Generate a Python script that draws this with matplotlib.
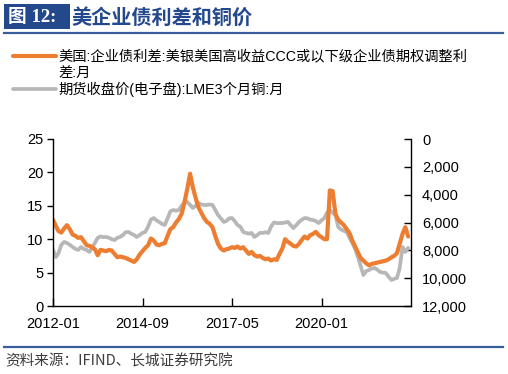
import matplotlib.pyplot as plt
import numpy as np
import pandas as pd
from matplotlib.patches import Rectangle
from matplotlib.lines import Line2D
from matplotlib.ticker import FuncFormatter

plt.rcParams['font.family'] = ['Liberation Sans', 'Noto Sans CJK SC', 'DejaVu Sans']

start_month = '2012-01'

# US CCC-and-below OAS (%), monthly
ccc_spread = [
    12.9, 12.0, 11.2, 11.0, 11.6, 12.1, 11.5, 10.7, 10.5, 10.2,
    10.3, 9.7, 9.1, 9.0, 8.8, 8.5, 7.6, 8.4, 8.3, 8.2,
    8.4, 8.3, 7.8, 7.3, 7.4, 7.3, 7.2, 7.0, 6.8, 6.6,
    7.0, 7.7, 8.2, 8.7, 9.1, 10.1, 9.8, 9.2, 9.1, 9.3,
    9.4, 10.5, 11.5, 11.8, 12.5, 13.0, 13.8, 15.5, 17.5, 19.8,
    17.8, 16.2, 14.8, 14.0, 13.2, 12.6, 12.3, 11.8, 10.5, 9.3,
    8.6, 8.3, 8.5, 8.6, 8.8, 8.7, 8.9, 8.6, 8.8, 8.3,
    7.8, 8.1, 7.6, 7.4, 7.5, 7.2, 7.0, 7.1, 6.8, 7.0,
    6.9, 7.8, 8.6, 10.0, 9.6, 9.3, 9.0, 8.9, 9.3, 9.9,
    10.4, 10.1, 10.6, 10.8, 11.1, 10.6, 10.3, 10.0, 10.0, 17.3,
    17.2, 13.8, 12.9, 12.5, 12.1, 11.5, 10.9, 9.8, 8.9, 8.0,
    7.2, 6.8, 6.4, 6.1, 6.3, 6.4, 6.5, 6.6, 6.7, 6.8,
    7.0, 7.3, 7.5, 7.9, 9.3, 10.8, 11.8, 10.4,
]

# LME 3-month copper, USD/t, monthly
lme_copper = [
    7970, 8480, 8200, 7600, 7400, 7470, 7600, 7760, 7900, 7970,
    7760, 7900, 7970, 8120, 7800, 7470, 7110, 7000, 7050, 7040,
    7100, 7200, 7260, 7100, 7040, 6900, 6700, 6680, 6800, 6900,
    7040, 6900, 6750, 6680, 6300, 5800, 5680, 5850, 5960, 6100,
    6180, 5700, 5200, 5100, 5150, 5100, 4800, 4600, 4530, 4740,
    4960, 4800, 4600, 4700, 4740, 4740, 4700, 4740, 5100, 5460,
    5700, 5960, 5900, 5700, 5680, 5900, 6180, 6300, 6680, 6750,
    6800, 6750, 7040, 6900, 6750, 6750, 6700, 6750, 6300, 6000,
    6040, 6040, 6040, 6000, 5960, 6200, 6400, 6200, 5960, 5800,
    5680, 5700, 5800, 5820, 5900, 6040, 5850, 5680, 5300, 5100,
    5300, 5460, 6320, 6500, 6600, 6680, 7100, 7470, 7900, 8480,
    9100, 9770, 9500, 9410, 9300, 9270, 9400, 9560, 9600, 9630,
    9900, 10130, 10050, 9990, 9270, 7760, 8120, 7830,
]

tick_labels = ['2012-01', '2014-09', '2017-05', '2020-01']
left_ticks = [0, 5, 10, 15, 20, 25]
right_ticks = [0, 2000, 4000, 6000, 8000, 10000, 12000]

ccc_label = ['美国:企业债利差:美银美国高收益CCC或以下级企业债期权调整利', '差:月']
cu_label = '期货收盘价(电子盘):LME3个月铜:月'

orange = '#ED7D31'
grey = '#B7B7B7'
navy = '#23488C'

months = pd.date_range(start_month, periods=len(ccc_spread), freq='MS')

fig = plt.figure(figsize=(5.08, 3.74), dpi=100)
W, H = 508, 374

ax = fig.add_axes([53 / W, 1 - 306 / H, (411 - 53) / W, (306 - 139) / H])
ax2 = ax.twinx()
ax.set_zorder(ax2.get_zorder() + 1)
ax.patch.set_visible(False)

l1, = ax.plot(months, ccc_spread, color=orange, lw=3.0, solid_capstyle='round')
l2, = ax2.plot(months, lme_copper, color=grey, lw=2.7, solid_capstyle='round')

ax.set_ylim(0, 25)
ax.set_yticks(left_ticks)
ax2.set_ylim(12000, 0)
ax2.set_yticks(right_ticks)
ax2.yaxis.set_major_formatter(FuncFormatter(lambda v, p: f'{int(v):,}'))

ax.set_xlim(months[0], months[-1] + pd.offsets.MonthBegin(1))
ax.set_xticks(pd.to_datetime(tick_labels))
ax.set_xticklabels(tick_labels)

for a in (ax, ax2):
    a.spines['top'].set_visible(False)
    for s in a.spines.values():
        s.set_linewidth(1.0)
ax.spines['right'].set_visible(False)
ax2.spines['left'].set_visible(False)
ax2.spines['bottom'].set_visible(False)

ax.tick_params(axis='y', direction='out', length=4, width=1, labelsize=10.5, pad=3)
ax.tick_params(axis='x', direction='in', length=6, width=1, labelsize=10.5, pad=8)
ax2.tick_params(axis='y', direction='in', length=5, width=1, labelsize=10.5, pad=8)

# header
fig.add_artist(Rectangle((4 / W, 1 - 29 / H), 66 / W, 25 / H, transform=fig.transFigure,
                         facecolor=navy, edgecolor='none'))
fig.text(8 / W, 1 - 17 / H, '图 12:', color='white', fontsize=13.5, fontweight='bold',
         va='center', family=['Liberation Serif', 'Noto Sans CJK SC'])
fig.text(71 / W, 1 - 17 / H, '美企业债利差和铜价', color=navy, fontsize=14.5,
         fontweight='bold', va='center', family=['Noto Sans CJK SC'])
fig.add_artist(Line2D([4 / W, 503 / W], [1 - 33 / H, 1 - 33 / H], color='#3A5E9C', lw=1.6))
fig.add_artist(Line2D([4 / W, 503 / W], [1 - 347 / H, 1 - 347 / H], color='#3A5E9C', lw=1.6))

# legend (second row only continues the orange label)
blank = Line2D([], [], color='none')
fig.legend([l1, blank, l2], [ccc_label[0], ccc_label[1], cu_label], loc='upper left',
           bbox_to_anchor=(7 / W, 1 - 44 / H), frameon=False,
           prop={'family': ['Liberation Sans', 'Noto Sans CJK SC'], 'size': 10.3},
           handlelength=3.0, handletextpad=0.2, labelspacing=0.14, borderaxespad=0)

fig.text(5 / W, 1 - 361 / H, '资料来源：IFIND、长城证券研究院', color='#3C3C3C', fontsize=10.5,
         style='italic', va='center', family=['Noto Sans CJK SC'])

fig.savefig('out.png', dpi=100)
